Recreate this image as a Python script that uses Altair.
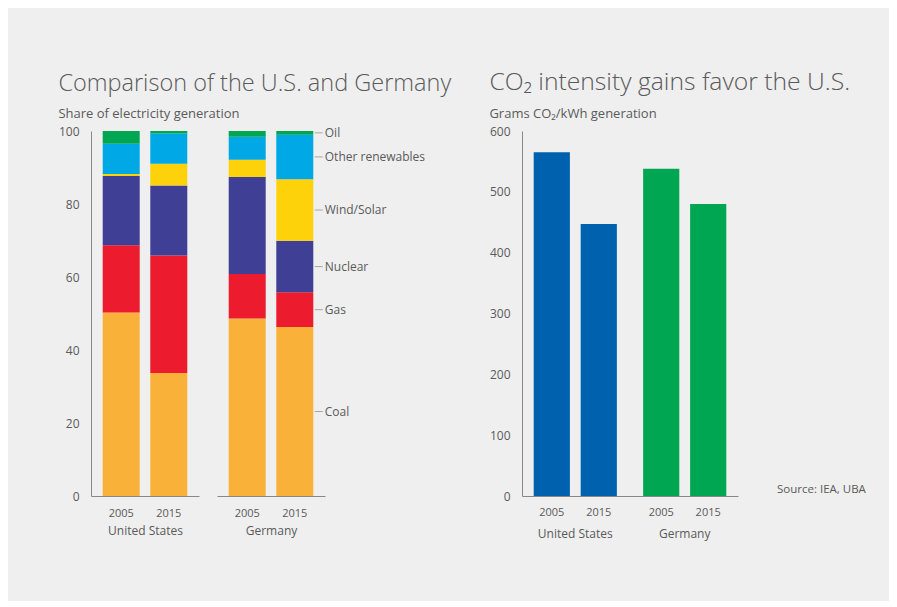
import altair as alt
import pandas as pd

# ---- data ----
sources = ["Coal", "Gas", "Nuclear", "Wind/Solar", "Other renewables", "Oil"]
source_colors = ["#F9B13A", "#EC1C2E", "#3F4095", "#FED20A", "#00A9E5", "#00A651"]
countries = ["United States", "Germany"]
years = ["2005", "2015"]
us_2005 = [50.3, 18.4, 19.0, 0.5, 8.3, 3.5]
us_2015 = [33.7, 32.2, 19.2, 5.9, 8.3, 0.7]
de_2005 = [48.6, 12.2, 26.6, 4.7, 6.3, 1.6]
de_2015 = [46.3, 9.5, 14.1, 16.9, 12.2, 1.0]

co2_country = ["United States", "United States", "Germany", "Germany"]
co2_year = ["2005", "2015", "2005", "2015"]
co2_values = [565, 447, 538, 480]
country_colors = ["#0061AF", "#00A651"]
source_note = ["Source: IEA, UBA"]

rows = []
for country, year, vals in [("United States", "2005", us_2005), ("United States", "2015", us_2015),
                            ("Germany", "2005", de_2005), ("Germany", "2015", de_2015)]:
    for i, (s, v) in enumerate(zip(sources, vals)):
        rows.append({"country": country, "year": year, "source": s, "ord": i, "share": v})
mix = pd.DataFrame(rows)
co2 = pd.DataFrame({"country": co2_country, "year": co2_year, "co2": co2_values})

FONT = "Open Sans"
GREY = "#5a5a5a"
H = 365


def mix_panel(country, show_y, with_labels):
    data = mix[mix["country"] == country]
    yaxis = alt.Axis(values=[0, 20, 40, 60, 80, 100], grid=False, ticks=False,
                     domainColor="#888", labelColor=GREY, labelFontSize=12, labelPadding=12) if show_y else None
    bars = alt.Chart(data).mark_bar(size=37).encode(
        x=alt.X("year:N", sort=years,
                scale=alt.Scale(paddingInner=0.23, paddingOuter=0.25),
                axis=alt.Axis(ticks=False, domainColor="#888", labelColor=GREY, labelFontSize=11,
                              labelAngle=0, labelPadding=11, title=country, titleFontSize=12,
                              titleFontWeight="normal", titleColor=GREY, titlePadding=7)),
        y=alt.Y("share:Q", stack="zero", title=None,
                scale=alt.Scale(domain=[0, 100], nice=False), axis=yaxis),
        color=alt.Color("source:N", sort=sources,
                        scale=alt.Scale(domain=sources, range=source_colors), legend=None),
        order=alt.Order("ord:Q", sort="ascending"),
    )
    layers = [bars]
    if with_labels:
        lab_base = alt.Chart(data).transform_filter(
            "datum.year == '2015'"
        ).transform_stack(
            stack="share", groupby=["country", "year"], as_=["y0", "y1"],
            sort=[alt.SortField("ord", order="ascending")]
        ).transform_calculate(mid="(datum.y0 + datum.y1) / 2")
        lab_ticks = lab_base.mark_tick(color="#888", thickness=1, size=8, xOffset=24).encode(
            x=alt.X("year:N", sort=years), y=alt.Y("mid:Q"))
        lab_text = lab_base.mark_text(align="left", baseline="middle", dx=30, fontSize=12,
                                      color=GREY, font=FONT).encode(
            x=alt.X("year:N", sort=years), y=alt.Y("mid:Q"), text="source:N")
        layers += [lab_ticks, lab_text]
    return alt.layer(*layers).properties(width=108, height=H)


left = alt.hconcat(
    mix_panel("United States", True, False),
    mix_panel("Germany", False, True),
    spacing=18,
    title=alt.Title("Comparison of the U.S. and Germany", subtitle="Share of electricity generation",
                    anchor="start", fontSize=23.5, fontWeight=300, color=GREY, font=FONT,
                    subtitleFontSize=13, subtitleColor=GREY, subtitleFont=FONT,
                    subtitlePadding=13, offset=4),
)

# ---- right: CO2 intensity ----
cbars = alt.Chart(co2).mark_bar().encode(
    x=alt.X("country:N", sort=countries, title=None,
            scale=alt.Scale(paddingInner=0.24, paddingOuter=0.107),
            axis=alt.Axis(ticks=False, domainColor="#888", labelColor=GREY, labelFontSize=12,
                          labelAngle=0, labelPadding=32)),
    xOffset=alt.XOffset("year:N", sort=years, scale=alt.Scale(paddingInner=0.23)),
    y=alt.Y("co2:Q", title=None, scale=alt.Scale(domain=[0, 600], nice=False),
            axis=alt.Axis(values=[0, 100, 200, 300, 400, 500, 600], grid=False, ticks=False,
                          domainColor="#888", labelColor=GREY, labelFontSize=12, labelPadding=12)),
    color=alt.Color("country:N", sort=countries,
                    scale=alt.Scale(domain=countries, range=country_colors), legend=None),
)
cyears = alt.Chart(co2).mark_text(fontSize=11, color=GREY, font=FONT, baseline="top").encode(
    x=alt.X("country:N", sort=countries),
    xOffset=alt.XOffset("year:N", sort=years),
    y=alt.value(H + 11),
    text="year:N",
)
csource = alt.Chart(pd.DataFrame({"note": source_note})).mark_text(
    fontSize=11.5, color=GREY, font=FONT, align="left", baseline="middle").encode(
    x=alt.value(255), y=alt.value(H - 6), text="note:N")

right = alt.layer(cbars, cyears, csource).properties(
    width=216, height=H,
    title=alt.Title("CO₂ intensity gains favor the U.S.", subtitle="Grams CO₂/kWh generation",
                    anchor="start", fontSize=24.7, fontWeight=300, color=GREY, font=FONT,
                    subtitleFontSize=13, subtitleColor=GREY, subtitleFont=FONT,
                    subtitlePadding=13, offset=4),
)

chart = alt.hconcat(left, right, spacing=37).resolve_scale(color="independent").properties(
    background="#efefef",
    padding={"left": 50, "top": 62, "right": 23, "bottom": 62},
).configure(font=FONT).configure_view(strokeWidth=0, stroke="transparent").configure_axis(
    labelFont=FONT, titleFont=FONT)

chart.save("out.html", embed_options={"renderer": "svg", "actions": False})
